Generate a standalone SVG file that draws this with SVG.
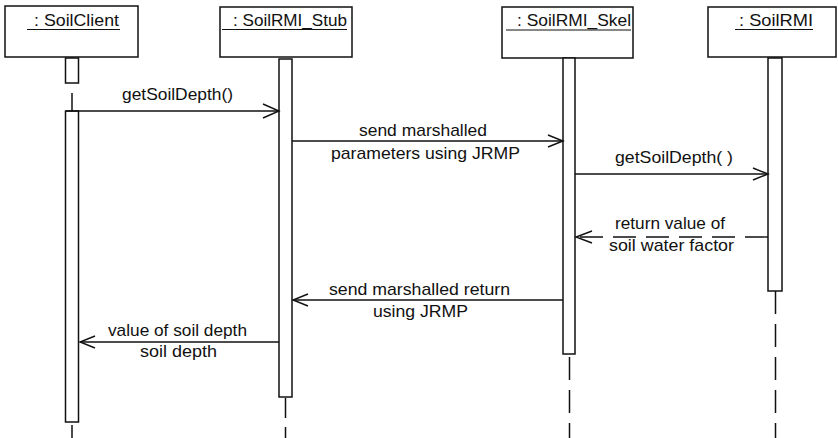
<svg xmlns="http://www.w3.org/2000/svg" width="838" height="438" viewBox="0 0 838 438">
<style>
.box{fill:#fff;stroke:#111;stroke-width:1.5}
.act{fill:#fff;stroke:#111;stroke-width:1.5}
.ll{stroke:#111;stroke-width:1.5;fill:none}
.dl{stroke:#111;stroke-width:1.5;fill:none;stroke-dasharray:23 10}
.msg{stroke:#111;stroke-width:1.4;fill:none}
.ret{stroke:#111;stroke-width:1.4;fill:none;stroke-dasharray:23 10}
.head{stroke:#111;stroke-width:1.4;fill:none}
.ul{stroke:#111;stroke-width:1.2}
text{font-family:"Liberation Sans",Arial,sans-serif;font-size:17px;fill:#111}
</style>
<rect width="838" height="438" fill="#fff"/>
<g id="SoilClient">
<rect class="box" x="5" y="6" width="133" height="51"/>
<text x="34" y="26" textLength="85" lengthAdjust="spacingAndGlyphs">: SoilClient</text>
<line class="ul" x1="27" y1="29.5" x2="120" y2="29.5"/>
<rect class="act" x="65.5" y="58" width="13" height="25"/>
<line class="ll" x1="72" y1="93" x2="72" y2="111"/>
<rect class="act" x="65.5" y="111" width="13" height="311"/>
<line class="ll" x1="72" y1="425" x2="72" y2="438"/>
</g>
<g id="SoilRMI_Stub">
<rect class="box" x="220" y="7" width="132" height="50"/>
<text x="233" y="26" textLength="114" lengthAdjust="spacingAndGlyphs">: SoilRMI_Stub</text>
<line class="ul" x1="222" y1="29.5" x2="347" y2="29.5"/>
<rect class="act" x="279" y="59" width="13" height="338"/>
<line class="ll" x1="285.5" y1="398" x2="285.5" y2="438" style="stroke-dasharray:20 9"/>
</g>
<g id="SoilRMI_Skel">
<rect class="box" x="502" y="7" width="131" height="51"/>
<text x="517" y="26" textLength="114" lengthAdjust="spacingAndGlyphs">: SoilRMI_Skel</text>
<line class="ul" x1="506" y1="30" x2="631" y2="30"/>
<rect class="act" x="563" y="58" width="12" height="296"/>
<line class="dl" x1="569.5" y1="357" x2="569.5" y2="438"/>
</g>
<g id="SoilRMI">
<rect class="box" x="708" y="7" width="128" height="50"/>
<text x="739" y="26" textLength="74" lengthAdjust="spacingAndGlyphs">: SoilRMI</text>
<line class="ul" x1="735" y1="29.5" x2="813" y2="29.5"/>
<rect class="act" x="768" y="58" width="14" height="233"/>
<line class="dl" x1="775.5" y1="291" x2="775.5" y2="438"/>
</g>
<g id="connectors">
<line class="msg" x1="66" y1="111" x2="279" y2="111"/>
<polyline class="head" points="263,104 279,111 263,118"/>
<text x="122" y="100" textLength="111" lengthAdjust="spacingAndGlyphs">getSoilDepth()</text>

<line class="msg" x1="292" y1="141" x2="563" y2="141"/>
<polyline class="head" points="548,135 563,141 548,147"/>
<text x="359" y="136" textLength="128" lengthAdjust="spacingAndGlyphs">send marshalled</text>
<text x="331" y="159" textLength="189" lengthAdjust="spacingAndGlyphs">parameters using JRMP</text>

<line class="msg" x1="575" y1="174" x2="768" y2="174"/>
<polyline class="head" points="753,168 768,174 753,180"/>
<text x="615" y="163" textLength="118" lengthAdjust="spacingAndGlyphs">getSoilDepth( )</text>

<line class="ret" x1="768" y1="237" x2="577" y2="237"/>
<polyline class="head" points="592,231 576,237 592,243"/>
<text x="615" y="229" textLength="110" lengthAdjust="spacingAndGlyphs">return value of</text>
<text x="609" y="251" textLength="125" lengthAdjust="spacingAndGlyphs">soil water factor</text>

<line class="msg" x1="563" y1="300" x2="293" y2="300"/>
<polyline class="head" points="308,294 293,300 308,306"/>
<text x="329" y="295" textLength="181" lengthAdjust="spacingAndGlyphs">send marshalled return</text>
<text x="373" y="317" textLength="95" lengthAdjust="spacingAndGlyphs">using JRMP</text>

<line class="msg" x1="279" y1="342" x2="80" y2="342"/>
<polyline class="head" points="95,336 80,342 95,348"/>
<text x="108" y="336" textLength="139" lengthAdjust="spacingAndGlyphs">value of soil depth</text>
<text x="140" y="357" textLength="77" lengthAdjust="spacingAndGlyphs">soil depth</text>
</g>
</svg>
